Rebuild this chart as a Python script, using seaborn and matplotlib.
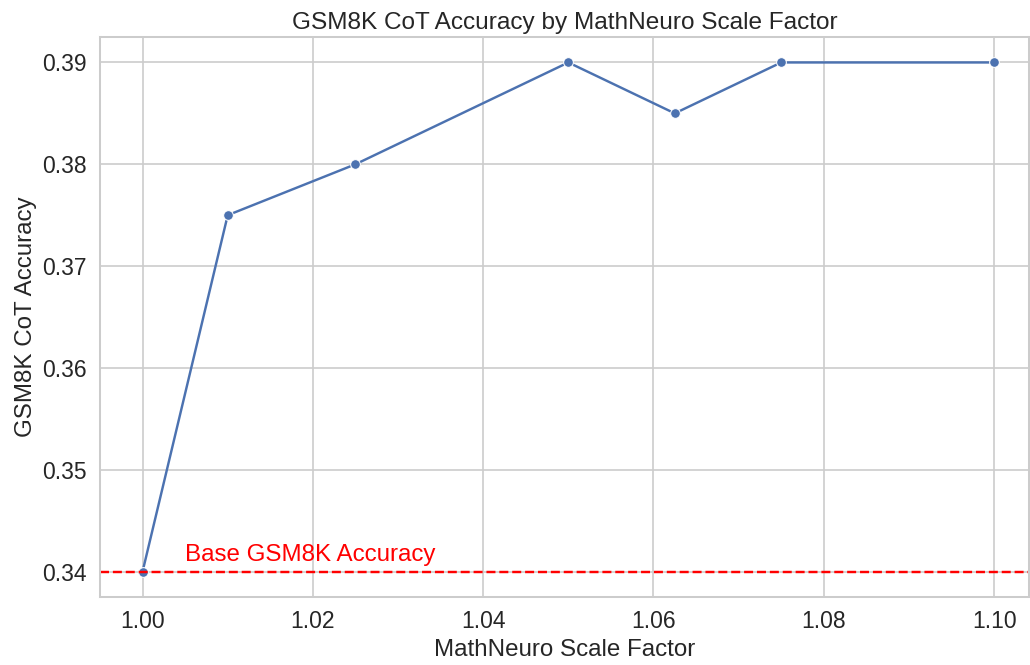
import matplotlib
matplotlib.use("Agg")
import matplotlib.pyplot as plt
import seaborn as sns
import pandas as pd

scale_factors = [1.0, 1.01, 1.025, 1.05, 1.0625, 1.075, 1.1]
accuracies = [0.34, 0.375, 0.38, 0.39, 0.385, 0.39, 0.39]
base_accuracy = 0.34

sns.set_theme(style="whitegrid", font_scale=1.5,
              rc={"grid.linewidth": 1.2, "axes.linewidth": 1.45,
                  "axes.labelsize": 17.4, "axes.titlesize": 17.6})
plt.rcParams["font.family"] = ["Liberation Sans", "DejaVu Sans"]

df = pd.DataFrame({"scale": scale_factors, "acc": accuracies})

fig = plt.figure(figsize=(10.3, 6.65), dpi=100)
ax = fig.add_axes([100 / 1030, 68 / 665, 929 / 1030, 560 / 665])
sns.lineplot(data=df, x="scale", y="acc", marker="o", markersize=7,
             linewidth=1.75, ax=ax)
ax.axhline(base_accuracy, color="red", linestyle="--", linewidth=1.75)
ax.text(1.005, base_accuracy + 0.001, "Base GSM8K Accuracy", color="red", fontsize=17.4)

ax.set_xlim(0.995, 1.1041)
ax.set_ylim(0.3375, 0.3925)
ax.set_xticks([1.00, 1.02, 1.04, 1.06, 1.08, 1.10])
ax.set_yticks([0.34, 0.35, 0.36, 0.37, 0.38, 0.39])
ax.set_xlabel("MathNeuro Scale Factor")
ax.set_ylabel("GSM8K CoT Accuracy")
ax.set_title("GSM8K CoT Accuracy by MathNeuro Scale Factor")

fig.savefig("out.png", dpi=100)
